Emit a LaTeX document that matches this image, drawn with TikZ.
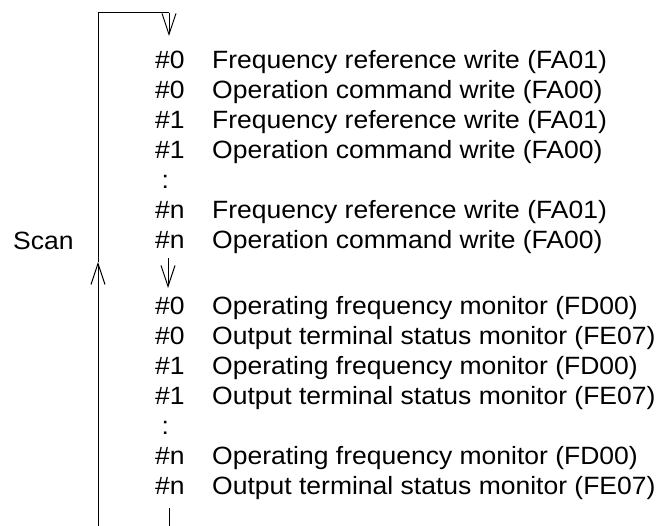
\documentclass[tikz,border=0pt]{standalone}
\usepackage{fontspec}
\setmainfont{Liberation Sans}[FakeStretch=1.06]
\usepackage{tikz}
\usetikzlibrary{arrows.meta, positioning}

\begin{document}
\begin{tikzpicture}[x=1pt, y=-1pt,
  every node/.style={font=\fontsize{25}{30}\selectfont, inner sep=0pt},
  idx/.style={anchor=base west},
  cmd/.style={anchor=base west},
  link/.style={line width=1pt},
  flow/.style={link, -{Straight Barb[length=21pt,width=14pt,line width=1pt]}},
]
\useasboundingbox (0,0) rectangle (662,526);

% ── Write requests ──
\foreach \k/\y/\n/\txt in {1/69/0/{Frequency reference write (FA01)},
                           2/99/0/{Operation command write (FA00)},
                           3/129/1/{Frequency reference write (FA01)},
                           4/159/1/{Operation command write (FA00)},
                           6/219/n/{Frequency reference write (FA01)},
                           7/249/n/{Operation command write (FA00)}}
  {\node[idx] (wn\k) at (155,\y) {\#\n};
   \node[cmd] (wt\k) at (212,\y) {\txt};}
\node[idx] (wdots) at (161.5,189) {:};

% ── Monitor requests ──
\foreach \k/\y/\n/\txt in {1/315/0/{Operating frequency monitor (FD00)},
                           2/345/0/{Output terminal status monitor (FE07)},
                           3/375/1/{Operating frequency monitor (FD00)},
                           4/405/1/{Output terminal status monitor (FE07)},
                           6/465/n/{Operating frequency monitor (FD00)},
                           7/495/n/{Output terminal status monitor (FE07)}}
  {\node[idx] (mn\k) at (155,\y) {\#\n};
   \node[cmd] (mt\k) at (212,\y) {\txt};}
\node[idx] (mdots) at (161.5,435) {:};

% Scan loop
\node[anchor=base west] (scan) at (13,250) {Scan};
\coordinate (loopbot) at (98,526);
\coordinate (loopmid) at (98,262);
\coordinate (looptop) at (98,13);
\coordinate (loopcorner) at (169,13);
\coordinate (loopin) at (169,36);
\coordinate (stepfrom) at (168,258);
\coordinate (stepto) at (168,288);
\coordinate (outfrom) at (169,508);
\coordinate (outto) at (169,526);

\draw[flow] (loopbot) -- (loopmid);
\draw[link] (loopmid) -- (looptop) -- (loopcorner);
\draw[flow] (loopcorner) -- (loopin);
\draw[flow] (stepfrom) -- (stepto);
\draw[link] (outfrom) -- (outto);

\end{tikzpicture}
\end{document}
